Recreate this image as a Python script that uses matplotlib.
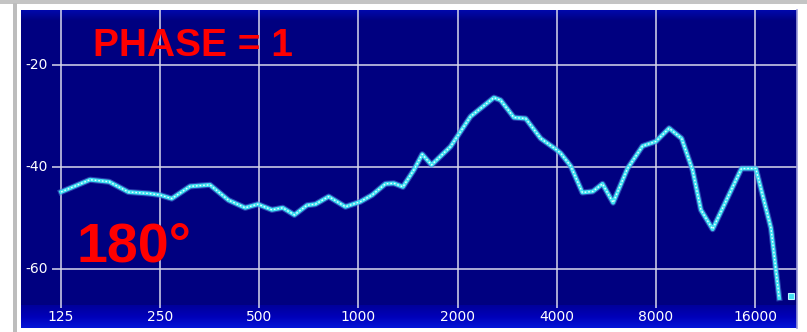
import numpy as np
import matplotlib
matplotlib.use("Agg")
import matplotlib.pyplot as plt
from matplotlib.patches import Rectangle
from matplotlib.transforms import blended_transform_factory

# Frequency response (Hz, dB)
freq = [125, 153, 175, 200, 231, 250, 271, 308, 354, 403, 453, 495, 546, 589,
        639, 698, 740, 812, 913, 1014, 1100, 1208, 1281, 1365, 1473, 1562, 1667,
        1904, 2190, 2579, 2702, 2966, 3220, 3576, 3972, 4113, 4410, 4787, 5148,
        5509, 5934, 6562, 7290, 8000, 8780, 9580, 10345, 10965, 11900, 14560,
        16100, 17900, 18960]
level = [-44.9, -42.5, -42.9, -44.9, -45.2, -45.5, -46.2, -43.8, -43.5, -46.5,
         -48.0, -47.3, -48.4, -48.0, -49.4, -47.5, -47.3, -45.8, -47.8, -46.8,
         -45.5, -43.3, -43.2, -43.9, -40.6, -37.5, -39.6, -36.0, -30.1, -26.4,
         -26.9, -30.3, -30.5, -34.4, -36.5, -37.3, -39.8, -45.0, -44.8, -43.3,
         -47.0, -40.3, -35.9, -35.0, -32.4, -34.4, -40.6, -48.4, -52.2, -40.3,
         -40.3, -52.0, -65.7]
end_freq = [20590]
end_level = [-65.3]

x_ticks = [125, 250, 500, 1000, 2000, 4000, 8000, 16000]
x_labels = ["125", "250", "500", "1000", "2000", "4000", "8000", "16000"]
y_ticks = [-20, -40, -60]
y_labels = ["-20", "-40", "-60"]

W, H = 807, 332
fig = plt.figure(figsize=(W / 100, H / 100), dpi=100, facecolor="white")

# window frame around the panel
fig.patches.append(Rectangle((0, (H - 4) / H), 1, 4 / H, transform=fig.transFigure,
                             facecolor="#c4c4c4", edgecolor="none", zorder=0))
fig.patches.append(Rectangle((13 / W, 0), 4 / W, (H - 3) / H, transform=fig.transFigure,
                             facecolor="#bdbdbd", edgecolor="none", zorder=0))

px_l, px_r, px_t, px_b = 21, 797, 10, 328
ax = fig.add_axes([px_l / W, (H - px_b) / H, (px_r - px_l) / W, (px_b - px_t) / H])
ax.set_facecolor("#000080")
ax.set_xscale("log")
ax.set_xlim(94.45, 21470)
ax.set_ylim(-71.57, -9.22)
ax.set_xticks([])
ax.set_yticks([])
ax.minorticks_off()
for s in ax.spines.values():
    s.set_visible(False)
ax.spines["right"].set_visible(True)
ax.spines["right"].set_color("#9a9ad8")
ax.spines["right"].set_linewidth(1.2)


def fx(px):
    return (px - px_l) / (px_r - px_l)


def fy(py):
    return (px_b - py) / (px_b - px_t)


# header and footer bands
top_grad = np.linspace(0, 1, 32).reshape(-1, 1)
ax.imshow(top_grad, cmap=matplotlib.colors.LinearSegmentedColormap.from_list(
    "top", ["#000080", "#0008ac"]), extent=[0, 1, fy(21), fy(10)],
    transform=ax.transAxes, aspect="auto", origin="lower", zorder=0.5)
bot_grad = np.linspace(0, 1, 32).reshape(-1, 1)
ax.imshow(bot_grad, cmap=matplotlib.colors.LinearSegmentedColormap.from_list(
    "bot", ["#0414d8", "#0000b8", "#00009c"]), extent=[0, 1, fy(328), fy(305)],
    transform=ax.transAxes, aspect="auto", origin="lower", zorder=0.5)

# grid
bx = blended_transform_factory(ax.transData, ax.transAxes)
by = blended_transform_factory(ax.transAxes, ax.transData)
for t in x_ticks:
    ax.plot([t, t], [fy(308), 1], transform=bx, color="#d8d8ec", lw=1.1, zorder=1,
            solid_capstyle="butt")
for t in y_ticks:
    ax.plot([fx(52), 1], [t, t], transform=by, color="#d8d8ec", lw=1.1, zorder=1,
            solid_capstyle="butt")

# tick labels
for t, lab in zip(x_ticks, x_labels):
    ax.text(t, fy(317), lab, transform=bx, color="white", fontsize=10,
            ha="center", va="center", family="DejaVu Sans", zorder=3)
for t, lab in zip(y_ticks, y_labels):
    ax.text(fx(48), t, lab, transform=by, color="white", fontsize=10,
            ha="right", va="center", family="DejaVu Sans", zorder=3)

# response curve
ax.plot(freq, level, color="#4a78d8", lw=4.4, alpha=0.55, zorder=4,
        solid_joinstyle="round")
ax.plot(freq, level, color="#3fe0f2", lw=2.8, zorder=5, solid_joinstyle="round")
ax.plot(freq, level, color="#eaffff", lw=1.0, dashes=(1.2, 1.4), zorder=6)
ax.plot(end_freq, end_level, marker="s", ms=4.5, color="#3fe0f2",
        markeredgecolor="#bff6ff", markeredgewidth=0.8, ls="none", zorder=6)

# annotations
fig.text(93 / W, 1 - 46 / H, "PHASE = 1", color="#ff0000", fontsize=28,
         fontweight="bold", family="Liberation Sans", ha="left", va="center")
fig.text(76 / W, 1 - 247 / H, "180°", color="#ff0000", fontsize=40,
         fontweight="bold", family="Liberation Sans", ha="left", va="center")

fig.savefig("out.png", dpi=100, facecolor="white")
